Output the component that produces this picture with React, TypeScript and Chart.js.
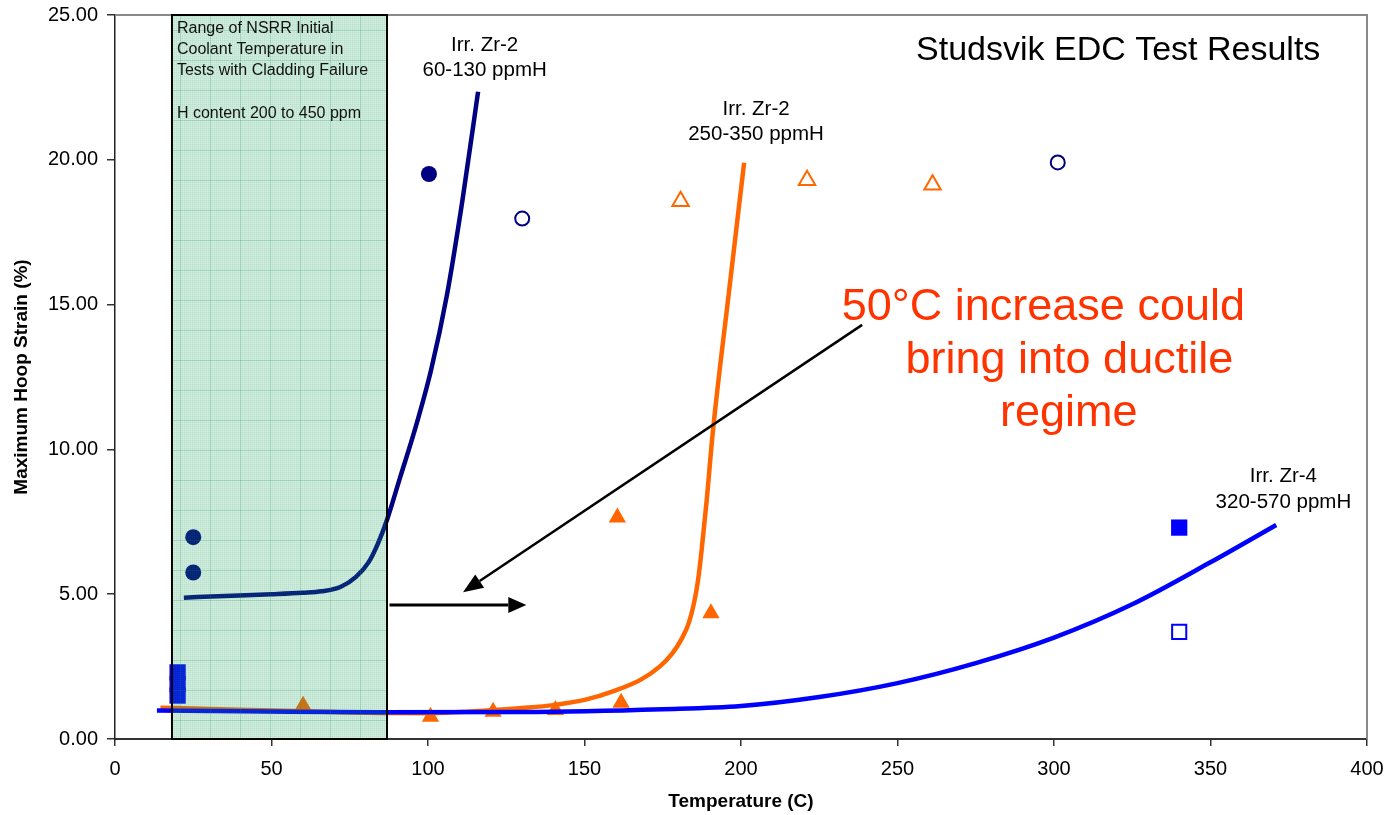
import React, { useEffect, useRef } from 'react';
import { Chart, registerables } from 'chart.js';

Chart.register(...registerables);

const FONT = '"Liberation Sans", Arial, Helvetica, sans-serif';

// ---- Trend curves ----
const zr2LowHCurveT = [22, 35, 50, 60, 66, 72, 77, 81, 84, 87, 91, 96, 101, 106, 111, 116];
const zr2LowHCurveStrain = [4.88, 4.94, 5.0, 5.05, 5.1, 5.25, 5.6, 6.1, 6.75, 7.6, 9.0, 10.75, 12.75, 15.3, 18.6, 22.35];

const zr2HighHCurveT = [14.5, 30, 50, 70, 85, 100, 110, 121, 130, 140, 150, 160, 168, 174, 178, 181, 183.3, 185, 186.3, 187.5, 189, 191, 196, 201];
const zr2HighHCurveStrain = [1.08, 1.04, 0.98, 0.93, 0.9, 0.89, 0.93, 1.0, 1.07, 1.17, 1.35, 1.68, 2.05, 2.5, 2.95, 3.45, 4.0, 4.7, 5.5, 6.6, 8.2, 10.6, 15.3, 19.9];

const zr4CurveT = [13.4, 40, 85, 130, 175, 200, 225, 250, 275, 300, 325, 350, 371];
const zr4CurveStrain = [0.98, 0.96, 0.92, 0.93, 1.03, 1.14, 1.45, 1.93, 2.62, 3.5, 4.65, 6.1, 7.39];

// ---- Test points ----
const zr2LowHFailT = [25, 25, 100.3];
const zr2LowHFailStrain = [6.97, 5.75, 19.51];
const zr2LowHNoFailT = [130.1, 301.2];
const zr2LowHNoFailStrain = [17.97, 19.91];

const zr2HighHFailT = [60.1, 100.8, 120.8, 140.7, 160.5, 161.7, 190.4];
const zr2HighHFailStrain = [1.15, 0.77, 0.94, 1.0, 7.65, 1.25, 4.34];
const zr2HighHNoFailT = [180.7, 221.1, 261.2];
const zr2HighHNoFailStrain = [18.57, 19.29, 19.14];

const zr4FailT = [20, 20, 20, 340];
const zr4FailStrain = [2.3, 1.9, 1.5, 7.3];
const zr4NoFailT = [340];
const zr4NoFailStrain = [3.7];

// ---- Axes ----
const xMin = 0, xMax = 400, xStep = 50;
const yMin = 0, yMax = 25, yStep = 5;

// ---- Annotations ----
const nsrrRange = [18.2, 86.9];
const nsrrText = ['Range of NSRR Initial', 'Coolant Temperature in', 'Tests with Cladding Failure', '', 'H content 200 to 450 ppm'];
const chartTitle = 'Studsvik EDC Test Results';
const curveLabels = [
  { lines: ['Irr. Zr-2', '60-130 ppmH'], x: 118.1, y: [23.75, 22.89] },
  { lines: ['Irr. Zr-2', '250-350 ppmH'], x: 204.8, y: [21.56, 20.7] },
  { lines: ['Irr. Zr-4', '320-570 ppmH'], x: 373.3, y: [8.86, 7.97] },
];
const noteLines = ['50°C increase could', 'bring into ductile', 'regime'];
const noteX = [296.6, 304.9, 304.7];
const noteY = [14.48, 12.65, 10.81];
const arrowDiag = [238.7, 14.3, 111.2, 5.07];
const arrowRight = [87.7, 4.63, 131.4, 4.63];

const pts = (xs: number[], ys: number[]) => xs.map((v, i) => ({ x: v, y: ys[i] }));

function makePattern(ctx: CanvasRenderingContext2D) {
  const pc = document.createElement('canvas');
  pc.width = 30;
  pc.height = 30;
  const p = pc.getContext('2d')!;
  p.fillStyle = 'rgba(30,160,95,0.18)';
  p.fillRect(0, 0, 30, 30);
  p.fillStyle = 'rgba(30,150,90,0.08)';
  for (let i = 0; i < 30; i += 2) {
    p.fillRect(i, 0, 1, 30);
    p.fillRect(0, i, 30, 1);
  }
  p.fillStyle = 'rgba(20,140,80,0.2)';
  p.fillRect(0, 0, 1, 30);
  p.fillRect(0, 0, 30, 1);
  return ctx.createPattern(pc, 'repeat');
}

function drawArrow(ctx: CanvasRenderingContext2D, x1: number, y1: number, x2: number, y2: number, head: number, half: number, lw: number) {
  const a = Math.atan2(y2 - y1, x2 - x1);
  const bx = x2 - head * Math.cos(a);
  const by = y2 - head * Math.sin(a);
  ctx.lineWidth = lw;
  ctx.beginPath();
  ctx.moveTo(x1, y1);
  ctx.lineTo(bx, by);
  ctx.stroke();
  ctx.beginPath();
  ctx.moveTo(x2, y2);
  ctx.lineTo(bx + half * Math.sin(a), by - half * Math.cos(a));
  ctx.lineTo(bx - half * Math.sin(a), by + half * Math.cos(a));
  ctx.closePath();
  ctx.fill();
}

const annotationPlugin = {
  id: 'annotations',
  afterDatasetsDraw(chart: any) {
    const { ctx, chartArea } = chart;
    const xs = chart.scales.x;
    const ys = chart.scales.y;
    const px = (v: number) => xs.getPixelForValue(v);
    const py = (v: number) => ys.getPixelForValue(v);
    ctx.save();

    // plot frame (top & right)
    ctx.strokeStyle = '#8a8a8a';
    ctx.lineWidth = 2;
    ctx.beginPath();
    ctx.moveTo(chartArea.left, chartArea.top);
    ctx.lineTo(chartArea.right, chartArea.top);
    ctx.lineTo(chartArea.right, chartArea.bottom);
    ctx.stroke();

    // NSRR range box (translucent overlay)
    const bl = px(nsrrRange[0]);
    const br = px(nsrrRange[1]);
    const bt = chartArea.top;
    const bb = chartArea.bottom;
    const pat = makePattern(ctx);
    ctx.fillStyle = pat || 'rgba(30,160,95,0.2)';
    ctx.fillRect(bl, bt, br - bl, bb - bt);
    ctx.strokeStyle = '#000';
    ctx.lineWidth = 2;
    ctx.strokeRect(bl, bt, br - bl, bb - bt);
    ctx.fillStyle = '#111';
    ctx.font = `16px ${FONT}`;
    ctx.textAlign = 'left';
    ctx.textBaseline = 'alphabetic';
    nsrrText.forEach((t, i) => ctx.fillText(t, bl + 5, bt + 17.7 + i * 21.3));

    // curve labels
    ctx.fillStyle = '#000';
    ctx.font = `20.5px ${FONT}`;
    ctx.textAlign = 'center';
    curveLabels.forEach((l) => {
      l.lines.forEach((t, i) => ctx.fillText(t, px(l.x), py(l.y[i])));
    });

    // title
    ctx.font = `34px ${FONT}`;
    ctx.textAlign = 'right';
    ctx.fillText(chartTitle, px(385.1), py(23.46));

    // red note
    ctx.fillStyle = '#ff3300';
    ctx.font = `45px ${FONT}`;
    ctx.textAlign = 'center';
    noteLines.forEach((t, i) => ctx.fillText(t, px(noteX[i]), py(noteY[i])));

    // arrows
    ctx.strokeStyle = '#000';
    ctx.fillStyle = '#000';
    drawArrow(ctx, px(arrowDiag[0]), py(arrowDiag[1]), px(arrowDiag[2]), py(arrowDiag[3]), 20, 8, 2.5);
    drawArrow(ctx, px(arrowRight[0]), py(arrowRight[1]), px(arrowRight[2]), py(arrowRight[3]), 18, 8, 3);

    ctx.restore();
  },
};

export default function App() {
  const ref = useRef<HTMLCanvasElement>(null);

  useEffect(() => {
    if (!ref.current) return;
    const curve = (label: string, xs: number[], ys: number[], color: string, order: number) => ({
      label,
      data: pts(xs, ys),
      showLine: true,
      borderColor: color,
      backgroundColor: color,
      borderWidth: 4.5,
      pointRadius: 0,
      cubicInterpolationMode: 'monotone' as const,
      tension: 0.4,
      order,
    });
    const marks = (label: string, xs: number[], ys: number[], style: string, r: number, color: string, filled: boolean, order: number) => ({
      label,
      data: pts(xs, ys),
      showLine: false,
      pointStyle: style,
      pointRadius: r,
      pointBackgroundColor: filled ? color : '#ffffff',
      pointBorderColor: color,
      pointBorderWidth: filled ? 0 : 2,
      order,
    });

    const chart = new Chart(ref.current, {
      type: 'scatter',
      data: {
        datasets: [
          curve('Irr. Zr-4 320-570 ppmH', zr4CurveT, zr4CurveStrain, '#0000ff', 0) as any,
          marks('Zr-2 low H failed', zr2LowHFailT, zr2LowHFailStrain, 'circle', 8, '#000080', true, 1),
          marks('Zr-2 low H not failed', zr2LowHNoFailT, zr2LowHNoFailStrain, 'circle', 7, '#000080', false, 1),
          marks('Zr-2 high H failed', zr2HighHFailT, zr2HighHFailStrain, 'triangle', 10, '#ff6600', true, 1),
          marks('Zr-2 high H not failed', zr2HighHNoFailT, zr2HighHNoFailStrain, 'triangle', 9.5, '#ff6600', false, 1),
          marks('Zr-4 failed', zr4FailT, zr4FailStrain, 'rect', 11.5, '#0000ff', true, 1),
          marks('Zr-4 not failed', zr4NoFailT, zr4NoFailStrain, 'rect', 10, '#0000ff', false, 1),
          curve('Irr. Zr-2 60-130 ppmH', zr2LowHCurveT, zr2LowHCurveStrain, '#000080', 2) as any,
          curve('Irr. Zr-2 250-350 ppmH', zr2HighHCurveT, zr2HighHCurveStrain, '#ff6600', 3) as any,
        ],
      },
      options: {
        animation: false,
        responsive: false,
        devicePixelRatio: 1,
        layout: { padding: { top: 15, right: 20, left: 0, bottom: 0 } },
        plugins: {
          legend: { display: false },
          tooltip: { enabled: false },
        },
        scales: {
          x: {
            type: 'linear',
            min: xMin,
            max: xMax,
            ticks: {
              stepSize: xStep,
              color: '#000',
              font: { size: 20, family: FONT },
              padding: 11,
              maxRotation: 0,
            },
            grid: { drawOnChartArea: false, drawTicks: true, tickLength: 7, color: '#333', lineWidth: 1.5 },
            border: { color: '#333', width: 2 },
            title: {
              display: true,
              text: 'Temperature (C)',
              color: '#000',
              font: { size: 19, weight: 'bold', family: FONT },
              padding: { top: 0, bottom: 1.6 },
            },
            afterFit: (s: any) => {
              s.height = 76;
              s.paddingLeft = 0;
              s.paddingRight = 0;
              s.paddingTop = 0;
              s.paddingBottom = 0;
            },
          },
          y: {
            type: 'linear',
            min: yMin,
            max: yMax,
            ticks: {
              stepSize: yStep,
              color: '#000',
              font: { size: 20, family: FONT },
              padding: 9,
              callback: (v: any) => Number(v).toFixed(2),
            },
            grid: { drawOnChartArea: false, drawTicks: true, tickLength: 8, color: '#333', lineWidth: 1.5 },
            border: { color: '#222', width: 1.5 },
            title: {
              display: true,
              text: 'Maximum Hoop Strain (%)',
              color: '#000',
              font: { size: 19, weight: 'bold', family: FONT },
              padding: { top: 10.6, bottom: 0 },
            },
            afterFit: (s: any) => {
              s.width = 115;
              s.paddingLeft = 0;
              s.paddingRight = 0;
              s.paddingTop = 0;
              s.paddingBottom = 0;
            },
          },
        },
      } as any,
      plugins: [annotationPlugin],
    });
    return () => chart.destroy();
  }, []);

  return (
    <div style={{ position: 'absolute', left: 0, top: 0, width: 1387, height: 815, background: '#fff' }}>
      <canvas ref={ref} width={1387} height={815} style={{ display: 'block', width: 1387, height: 815 }} />
    </div>
  );
}
